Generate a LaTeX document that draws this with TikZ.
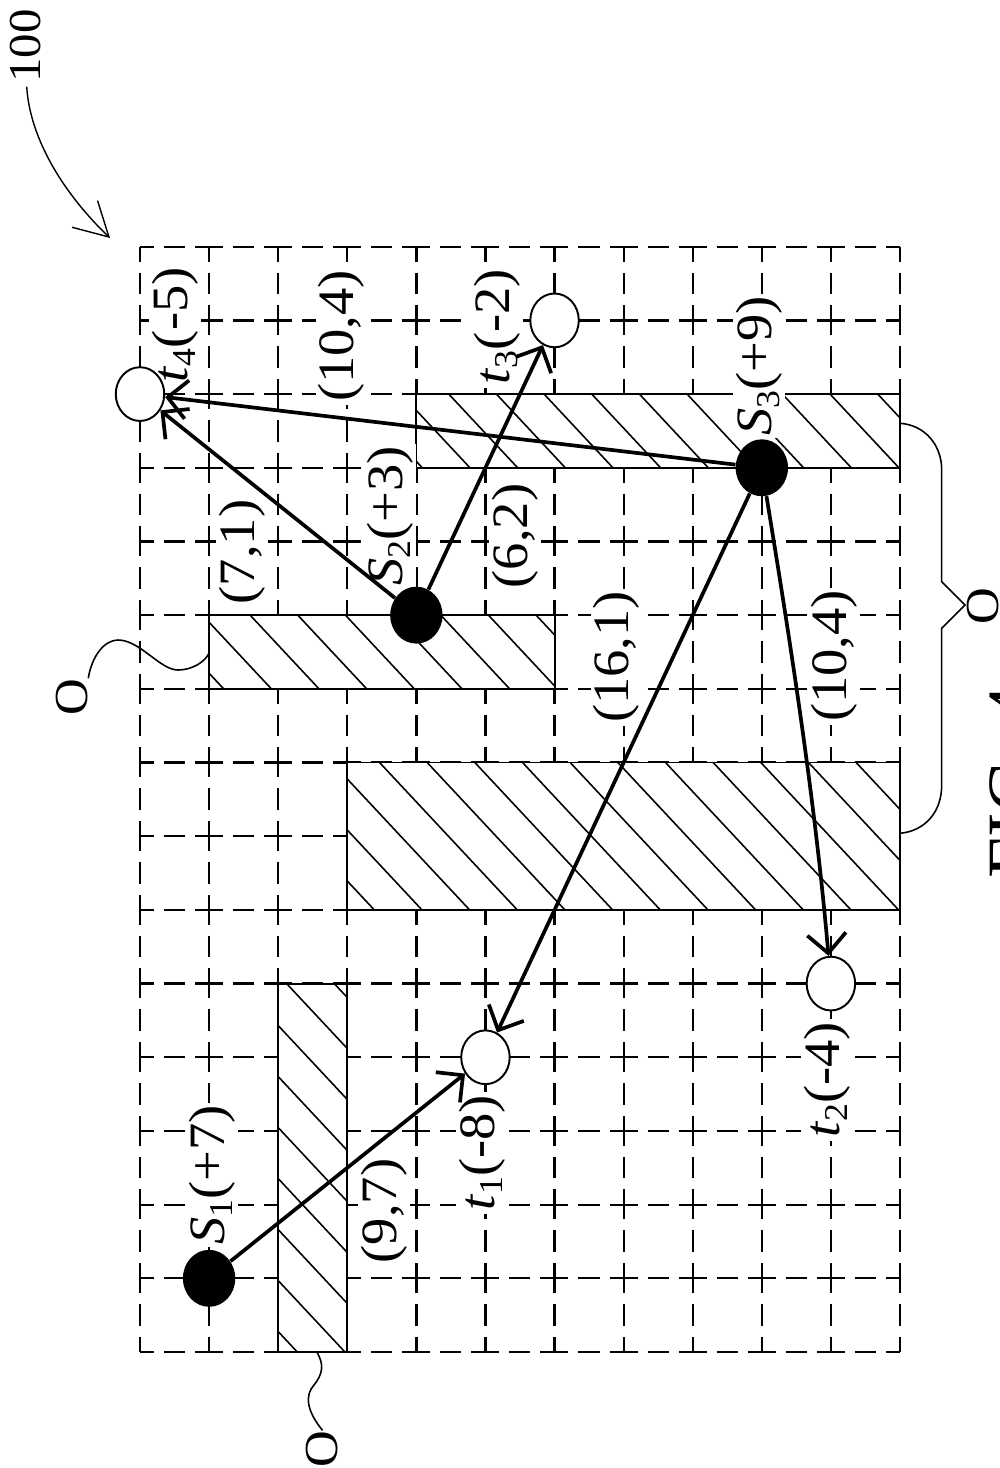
\documentclass[tikz,border=0pt]{standalone}
\usepackage{fontspec}
\setmainfont{Liberation Serif}
\usetikzlibrary{arrows.meta,shapes.geometric}
\newcommand{\stch}[1]{\scalebox{1.07}[1]{#1}}
\newcommand{\lbl}[3]{\stch{\textit{#1}\raisebox{-4.5pt}{\fontsize{19}{19}\selectfont #2}#3}}
\newcommand{\hatchbox}[5]{%
  \fill[white] (#1,#2) rectangle (#3,#4);
  \begin{scope}
    \clip (#1,#2) rectangle (#3,#4);
    \foreach \k in {-15,...,25}{%
      \pgfmathsetmacro\hcc{#5+51*\k}
      \draw[hatchline] (#1,{1.07*#1+\hcc}) -- (#3,{1.07*#3+\hcc});
    }
  \end{scope}
  \draw[obstline] (#1,#2) rectangle (#3,#4);
}
\begin{document}
\begin{tikzpicture}[x=0.02cm,y=-0.02cm,
  gridline/.style={line width=1.3pt},
  hgrid/.style={gridline, dash pattern=on 15.933pt off 5.691pt on 12.002pt off 5.691pt, dash phase=7.967pt},
  vgrid/.style={gridline, dash pattern=on 17.072pt off 6.26pt on 12.34pt off 6.26pt, dash phase=8.536pt},
  obstline/.style={line width=1.1pt},
  hatchline/.style={line width=0.9pt},
  src/.style={ellipse, fill=black, minimum width=29.8pt, minimum height=32.4pt, inner sep=0pt},
  snk/.style={ellipse, draw, fill=white, line width=1.1pt, minimum width=27.6pt, minimum height=30.6pt, inner sep=0pt},
  lab/.style={rotate=90, fill=white, inner sep=1.5pt, font=\fontsize{29}{30}\selectfont},
  olab/.style={rotate=90, inner sep=0pt, font=\fontsize{27}{28}\selectfont},
  conn/.style={line width=2.1pt, -{Straight Barb[length=11pt,width=22pt]}},
  thin/.style={line width=0.9pt},
]
\useasboundingbox (0,0) rectangle (1000,1468);
% grid
\foreach \i in {0,...,11}{\pgfmathsetmacro\gx{140+69.0909*\i}\draw[vgrid] (\gx,246.7) -- (\gx,1352);}
\foreach \j in {0,...,15}{\pgfmathsetmacro\gy{246.7+73.687*\j}\draw[hgrid] (140,\gy) -- (900,\gy);}
% obstacles
\hatchbox{416.36}{394.07}{900}{467.76}{15.9}
\hatchbox{209.09}{615.14}{554.55}{688.82}{41.5}
\hatchbox{347.27}{762.51}{900}{909.88}{50.4}
\hatchbox{278.18}{983.57}{347.27}{1352}{13.9}
% labels
\node[lab] (lt4) at (175,325) {\lbl{t}{4}{(-5)}};
\node[lab] (lc1) at (341.5,336) {\stch{(10,4)}};
\node[lab] (lt3) at (497,327) {\lbl{t}{3}{(-2)}};
\node[lab] (lc2) at (242,552) {\stch{(7,1)}};
\node[lab] (lS2) at (390,516) {\lbl{S}{2}{(+3)}};
\node[lab] (lc3) at (515,536) {\stch{(6,2)}};
\node[lab] (lS3) at (759,366) {\lbl{S}{3}{(+9)}};
\node[lab] (lc4) at (616.5,657) {\stch{(16,1)}};
\node[lab] (lc5) at (834,656) {\stch{(10,4)}};
\node[lab] (lt2) at (827,1080) {\lbl{t}{2}{(-4)}};
\node[lab] (lt1) at (482,1153) {\lbl{t}{1}{(-8)}};
\node[lab] (lc6) at (384,1211) {\stch{(9,7)}};
\node[lab] (lS1) at (212,1175) {\lbl{S}{1}{(+7)}};
% nodes
\node[src] (S1) at (209.09,1278.32) {};
\node[src] (S2) at (416.36,615.14) {};
\node[src] (S3) at (761.82,467.76) {};
\node[snk] (t1) at (485.45,1057.26) {};
\node[snk] (t2) at (830.91,983.57) {};
\node[snk] (t3) at (554.55,320.39) {};
\node[snk] (t4) at (140,394.07) {};
% connectors
\draw[conn] (S1) -- (t1);
\draw[conn] (S2) -- (t4);
\draw[conn] (S2) -- (t3);
\draw[conn] (S3) -- (t4);
\draw[conn] (S3) -- (t1);
\draw[conn] (S3) .. controls (790,640) and (815,800) .. (t2);
% O labels
\node[olab] (O1) at (72,697) {\stch{O}};
\draw[thin] (O1.south east) .. controls (92,655) and (105,640) .. (118,640)
  .. controls (140,640) and (160,670) .. (178,670)
  .. controls (192,670) and (205,662) .. (209.09,653);
\node[olab] (O2) at (322.5,1449) {\stch{O}};
\draw[thin] (316.7,1352) .. controls (325,1365) and (322,1375) .. (314,1385)
  .. controls (305,1395) and (306,1410) .. (O2.east);
\node[olab] (O3) at (983,606) {\stch{O}};
\draw[thin] (900,423.3) .. controls (925,425) and (941.7,445) .. (941.7,470) -- (941.7,581.7)
  -- (965,605) -- (941.7,628.3) -- (941.7,785)
  .. controls (941.7,812) and (925,831) .. (900,833.3);
% 100
\node[rotate=90, inner sep=0pt, font=\fontsize{26}{26}\selectfont] (l100) at (26,46) {\stch{100}};
\coordinate (g100) at (110,238);
\draw[line width=0.8pt, -{Straight Barb[length=19pt,width=21pt]}] (26.7,86.7) .. controls (30,140) and (65,195) .. (g100);
% figure caption (mostly outside the page)
\node[rotate=90, inner sep=0pt, font=\fontsize{42}{42}\selectfont] (fig) at (1015,782) {FIG. 4};
\end{tikzpicture}
\end{document}
